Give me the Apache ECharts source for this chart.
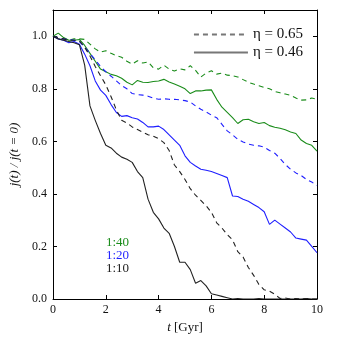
<!DOCTYPE html>
<html><head><meta charset="utf-8">
<script src="https://cdn.jsdelivr.net/npm/echarts@6/dist/echarts.min.js"></script>
<style>html,body{margin:0;padding:0;background:#fff}#c{width:340px;height:340px}</style>
</head><body><div id="c"></div>
<script>
const t = [0,0.2,0.4,0.6,0.8,1.0,1.2,1.4,1.6,1.8,2.0,2.2,2.4,2.6,2.8,3.0,3.2,3.4,3.6,3.8,4.0,4.2,4.4,4.6,4.8,5.0,5.2,5.4,5.6,5.8,6.0,6.2,6.4,6.6,6.8,7.0,7.2,7.4,7.6,7.8,8.0,8.2,8.4,8.6,8.8,9.0,9.2,9.4,9.6,9.8,10.0];
const g65 = [1.0,0.995,0.99,0.985,0.99,0.99,0.988,0.97,0.952,0.94,0.945,0.935,0.926,0.92,0.905,0.894,0.907,0.898,0.902,0.88,0.875,0.89,0.875,0.868,0.876,0.872,0.888,0.87,0.845,0.86,0.869,0.856,0.86,0.852,0.85,0.845,0.835,0.825,0.818,0.812,0.805,0.8,0.79,0.785,0.78,0.775,0.765,0.757,0.758,0.765,0.76];
const g46 = [1.0,1.012,0.995,0.985,0.985,0.988,0.965,0.935,0.905,0.875,0.865,0.855,0.85,0.84,0.825,0.815,0.832,0.825,0.824,0.828,0.83,0.836,0.826,0.818,0.81,0.8,0.782,0.792,0.792,0.795,0.796,0.76,0.73,0.71,0.69,0.668,0.682,0.684,0.675,0.668,0.672,0.66,0.654,0.65,0.644,0.636,0.63,0.605,0.592,0.585,0.563];
const b65 = [1.0,0.995,0.99,0.988,0.985,0.98,0.958,0.935,0.91,0.885,0.865,0.848,0.83,0.812,0.8,0.782,0.778,0.776,0.772,0.765,0.76,0.762,0.76,0.76,0.758,0.755,0.75,0.735,0.722,0.712,0.7,0.69,0.665,0.64,0.625,0.608,0.598,0.59,0.585,0.583,0.578,0.565,0.555,0.535,0.512,0.494,0.48,0.47,0.455,0.445,0.432];
const b46 = [1.0,0.99,0.985,0.975,0.98,0.97,0.932,0.888,0.83,0.795,0.775,0.74,0.71,0.695,0.698,0.69,0.685,0.672,0.655,0.655,0.658,0.645,0.625,0.605,0.585,0.545,0.52,0.506,0.494,0.49,0.485,0.478,0.47,0.462,0.392,0.39,0.38,0.372,0.36,0.348,0.332,0.284,0.3,0.285,0.27,0.255,0.232,0.228,0.224,0.2,0.176];
const k65 = [1.0,0.995,0.99,0.985,0.985,0.983,0.958,0.925,0.885,0.85,0.815,0.77,0.72,0.68,0.67,0.655,0.645,0.635,0.625,0.62,0.61,0.595,0.565,0.51,0.485,0.455,0.42,0.395,0.375,0.355,0.33,0.29,0.27,0.245,0.225,0.18,0.16,0.12,0.09,0.055,0.035,0.03,0.018,0.002,0.004,0.0,0.002,0.0,0.002,0.0,0.0];
const k46 = [1.0,0.99,0.985,0.98,0.975,0.968,0.89,0.735,0.68,0.63,0.585,0.575,0.555,0.54,0.532,0.52,0.485,0.462,0.38,0.33,0.305,0.27,0.25,0.2,0.14,0.14,0.112,0.06,0.07,0.05,0.02,0.015,0.01,0.005,0.0,0.002,0.0,0.0,0.0,0.002,0.0,0.0,0.0,0.0,0.0,0.0,0.0,0.0,0.002,0.0,0.0];
const xTicks = [0,2,4,6,8,10];
const yTicks = [0,0.2,0.4,0.6,0.8,1.0];
const ratioLabels = ['1:40','1:20','1:10'];
const legendNames = ['η = 0.65','η = 0.46'];

const GREEN = '#1a8c1a', BLUE = '#1f1fff', BLACK = '#222';
const DASH = [5,4];
const font = '"Liberation Serif","DejaVu Serif",serif';
function pairs(v){ return t.map((x,i)=>[x,v[i]]); }
function line(name, v, color, dashed){
  return {name, type:'line', data:pairs(v), symbol:'none', silent:true,
    lineStyle:{color, width:1.1, type: dashed?DASH:'solid'}, itemStyle:{color}, z:3};
}
const chart = echarts.init(document.getElementById('c'), null, {renderer:'canvas'});
function axisCommon(){ return {axisLine:{show:true,onZero:false,lineStyle:{color:'#000',width:1}}, splitLine:{show:false},
  axisTick:{show:true,inside:true,length:4,lineStyle:{color:'#000'}}}; }
chart.setOption({
  animation:false,
  backgroundColor:'#fff',
  grid:{left:53,right:23,top:10,bottom:41},
  legend:{
    data:[{name:legendNames[0]},{name:legendNames[1]}],
    orient:'vertical', right:37, top:27, padding:0, itemWidth:54, itemHeight:10, itemGap:3,
    itemStyle:{opacity:0},
    textStyle:{fontFamily:font,fontSize:15,color:'#111',lineHeight:13}
  },
  xAxis:[
    Object.assign({type:'value',min:0,max:10,interval:2,position:'bottom',
      name:'{i|t} [Gyr]',nameLocation:'middle',nameGap:22,
      nameTextStyle:{fontFamily:font,fontSize:13,color:'#111',rich:{i:{fontFamily:font,fontSize:13,fontStyle:'italic',color:'#111'}}},
      axisLabel:{fontFamily:font,fontSize:12,color:'#111',margin:5}},axisCommon()),
    Object.assign({type:'value',min:0,max:10,interval:2,position:'top',axisLabel:{show:false}},axisCommon())
  ],
  yAxis:[
    Object.assign({type:'value',min:0,max:1.1,interval:0.2,position:'left',
      name:'j(t) / j(t = 0)',nameLocation:'middle',nameGap:30,
      nameTextStyle:{fontFamily:font,fontSize:13,fontStyle:'italic',color:'#111'},
      axisLabel:{fontFamily:font,fontSize:12,color:'#111',margin:6,showMaxLabel:false,
        formatter:v=> v>1.05?'':v.toFixed(1)}},axisCommon()),
    Object.assign({type:'value',min:0,max:1.1,interval:0.2,position:'right',axisLabel:{show:false}},axisCommon())
  ],
  series:[
    {name:legendNames[0],type:'line',data:[],symbol:'none',lineStyle:{color:'#777',width:2,type:DASH},itemStyle:{color:'#777'}},
    {name:legendNames[1],type:'line',data:[],symbol:'none',lineStyle:{color:'#777',width:2},itemStyle:{color:'#777'}},
    line('g65',g65,GREEN,true),
    line('g46',g46,GREEN,false),
    line('b65',b65,BLUE,true),
    line('b46',b46,BLUE,false),
    line('k65',k65,BLACK,true),
    line('k46',k46,BLACK,false)
  ],
  graphic:[
    {type:'text',left:106,top:236,style:{text:ratioLabels[0],fill:GREEN,font:'13px '+font}},
    {type:'text',left:106,top:249,style:{text:ratioLabels[1],fill:BLUE,font:'13px '+font}},
    {type:'text',left:106,top:262,style:{text:ratioLabels[2],fill:BLACK,font:'13px '+font}}
  ]
});
</script></body></html>
